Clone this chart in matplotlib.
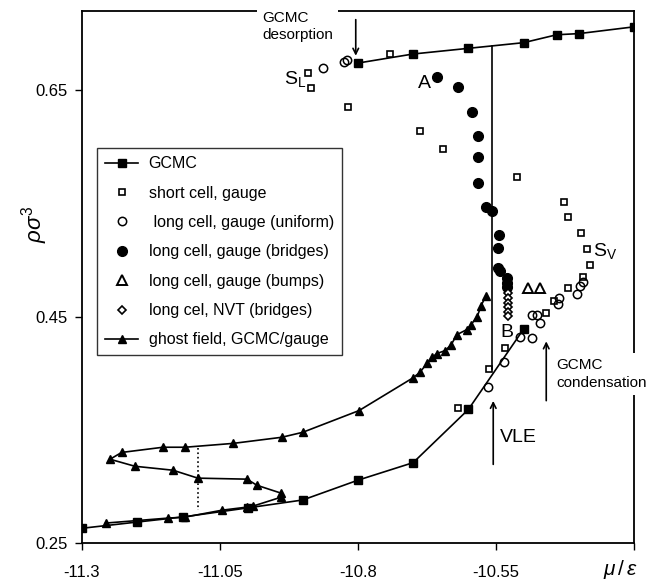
import matplotlib
matplotlib.use('Agg')
import matplotlib.pyplot as plt

plt.rcParams['font.family'] = ['Liberation Sans', 'DejaVu Sans']
plt.rcParams['mathtext.fontset'] = 'custom'
plt.rcParams['mathtext.rm'] = 'Liberation Sans'
plt.rcParams['mathtext.it'] = 'Liberation Sans:italic'

# GCMC (desorption branch, liquid side)
gcmc_des_mu = [-10.80, -10.70, -10.60, -10.50, -10.44, -10.40, -10.30]
gcmc_des_rho = [0.674, 0.682, 0.687, 0.692, 0.699, 0.700, 0.706]

# GCMC (adsorption branch, vapour side)
gcmc_ads_mu = [-11.30, -11.20, -11.117, -11.00, -10.90, -10.80, -10.70, -10.60, -10.50]
gcmc_ads_rho = [0.263, 0.2685, 0.273, 0.281, 0.288, 0.3055, 0.321, 0.368, 0.439]

# short cell, gauge
short_mu = [-10.891, -10.885, -10.818, -10.742, -10.688, -10.646, -10.512,
            -10.427, -10.420, -10.396, -10.385, -10.380, -10.392, -10.420,
            -10.445, -10.459, -10.534, -10.563, -10.619]
short_rho = [0.665, 0.652, 0.635, 0.682, 0.614, 0.598, 0.573,
             0.551, 0.538, 0.524, 0.510, 0.496, 0.485, 0.4755,
             0.464, 0.4535, 0.4227, 0.404, 0.369]

# long cell, gauge (uniform)
uni_mu = [-10.863, -10.825, -10.820, -10.565, -10.536, -10.507, -10.485,
          -10.485, -10.476, -10.470, -10.438, -10.436, -10.403, -10.398, -10.392]
uni_rho = [0.670, 0.6747, 0.6764, 0.388, 0.4095, 0.4324, 0.4315,
           0.451, 0.4518, 0.4447, 0.4615, 0.466, 0.4703, 0.4773, 0.481]

# long cell, gauge (bridges)
bridge_mu = [-10.657, -10.619, -10.593, -10.583, -10.583, -10.583, -10.568,
             -10.557, -10.545, -10.546, -10.546, -10.543, -10.530, -10.530, -10.530]
bridge_rho = [0.662, 0.6526, 0.6306, 0.6095, 0.591, 0.568, 0.547,
              0.5434, 0.522, 0.511, 0.493, 0.4905, 0.484, 0.480, 0.476]

# long cell, gauge (bumps)
bump_mu = [-10.492, -10.470]
bump_rho = [0.4755, 0.4755]

# long cel, NVT (bridges)
nvt_mu = [-10.528, -10.528, -10.528, -10.528, -10.528, -10.528]
nvt_rho = [0.4711, 0.4666, 0.4622, 0.4587, 0.4544, 0.4507]

# ghost field, GCMC/gauge
ghost_mu = [-11.257, -11.144, -11.113, -11.046, -11.001, -10.990, -10.939,
            -10.939, -10.983, -11.001, -11.090, -11.135, -11.204, -11.249,
            -11.228, -11.153, -11.113, -11.026, -10.938, -10.900, -10.798,
            -10.700, -10.688, -10.675, -10.666, -10.657, -10.642, -10.631,
            -10.621, -10.603, -10.595, -10.584, -10.577, -10.568]
ghost_rho = [0.2676, 0.272, 0.2729, 0.279, 0.2817, 0.2826, 0.2905,
             0.294, 0.301, 0.3064, 0.3073, 0.3143, 0.3178, 0.324,
             0.330, 0.3346, 0.3346, 0.338, 0.3434, 0.3478, 0.367,
             0.396, 0.4007, 0.4086, 0.4139, 0.4174, 0.420, 0.4253,
             0.434, 0.4385, 0.443, 0.450, 0.4597, 0.4685]

# VLE tie line and dotted line in the loop
vle_mu = [-10.558, -10.558]
vle_rho = [0.689, 0.404]
dot_mu = [-11.09, -11.09]
dot_rho = [0.3337, 0.279]

xticks = [-11.3, -11.05, -10.8, -10.55, -10.3]
xticklabels = ['-11.3', '-11.05', '-10.8', '-10.55', '']
yticks = [0.25, 0.45, 0.65]

fig = plt.figure(figsize=(6.55, 5.84), dpi=100)
ax = fig.add_axes([0.125, 0.0702, 0.843, 0.911])

ax.plot(gcmc_des_mu, gcmc_des_rho, 'k-', marker='s', ms=5.5, lw=1.2, label='GCMC')
ax.plot(gcmc_ads_mu, gcmc_ads_rho, 'k-', marker='s', ms=5.5, lw=1.2)
ax.plot(short_mu, short_rho, ls='none', marker='s', ms=4.5, mfc='white', mec='k',
        mew=1.2, label='short cell, gauge')
ax.plot(uni_mu, uni_rho, ls='none', marker='o', ms=6, mfc='none', mec='k',
        mew=1.1, label=' long cell, gauge (uniform)')
ax.plot(bridge_mu, bridge_rho, ls='none', marker='o', ms=7, color='k',
        label='long cell, gauge (bridges)')
ax.plot(bump_mu, bump_rho, ls='none', marker='^', ms=7, mfc='white', mec='k',
        mew=1.4, label='long cell, gauge (bumps)')
ax.plot(nvt_mu, nvt_rho, ls='none', marker='D', ms=4, mfc='white', mec='k',
        mew=1.2, label='long cel, NVT (bridges)')
ax.plot(ghost_mu, ghost_rho, 'k-', marker='^', ms=6, lw=1.2,
        label='ghost field, GCMC/gauge')
ax.plot(vle_mu, vle_rho, 'k-', lw=1.2)
ax.plot(dot_mu, dot_rho, 'k:', lw=1.2)

ax.set_xlim(-11.3, -10.3)
ax.set_ylim(0.25, 0.72)
ax.set_xticks(xticks)
ax.set_xticklabels(xticklabels)
ax.set_yticks(yticks)
ax.set_yticklabels(['0.25', '0.45', '0.65'])
ax.tick_params(axis='x', direction='out', length=5, width=1, pad=11, labelsize=12)
ax.tick_params(axis='y', direction='out', length=5, width=1, pad=5, labelsize=12)
for s in ax.spines.values():
    s.set_linewidth(1.3)

ax.text(0.975, -0.05, r'$\mu\,/\,\varepsilon$', transform=ax.transAxes,
        ha='center', va='center', fontsize=15)
ax.text(-0.085, 0.6, r'$\rho\sigma^3$', transform=ax.transAxes, rotation=90,
        ha='center', va='center', fontsize=16)

leg = ax.legend(loc='upper left', bbox_to_anchor=(0.027, 0.742), fontsize=11.5,
                frameon=True, fancybox=False, edgecolor='k', labelspacing=0.9,
                handlelength=2.1, handletextpad=0.65, borderpad=0.5,
                borderaxespad=0)
leg.get_frame().set_linewidth(1.0)

box = dict(boxstyle='square,pad=0.35', fc='white', ec='none')
ax.text(-10.974, 0.7196, 'GCMC\ndesorption', ha='left', va='top', fontsize=11,
        bbox=box, clip_on=False, zorder=5)
ax.text(-10.441, 0.413, 'GCMC\ncondensation', ha='left', va='top', fontsize=11,
        bbox=box, clip_on=False, zorder=5, linespacing=1.3)
ax.annotate('', xy=(-10.804, 0.678), xytext=(-10.804, 0.7148),
            arrowprops=dict(arrowstyle='->', lw=1.2, color='k'), zorder=6)
ax.annotate('', xy=(-10.555, 0.378), xytext=(-10.555, 0.317),
            arrowprops=dict(arrowstyle='->', lw=1.2, color='k'))
ax.annotate('', xy=(-10.459, 0.4306), xytext=(-10.459, 0.3733),
            arrowprops=dict(arrowstyle='->', lw=1.2, color='k'))
ax.text(-10.543, 0.3434, 'VLE', ha='left', va='center', fontsize=14)
ax.text(-10.679, 0.656, 'A', ha='center', va='center', fontsize=14)
ax.text(-10.530, 0.436, 'B', ha='center', va='center', fontsize=14)
ax.text(-10.934, 0.6597, r'S$_{\mathrm{L}}$', ha='left', va='center', fontsize=14)
ax.text(-10.375, 0.508, r'S$_{\mathrm{V}}$', ha='left', va='center', fontsize=14)

fig.savefig('out.png', dpi=100)
